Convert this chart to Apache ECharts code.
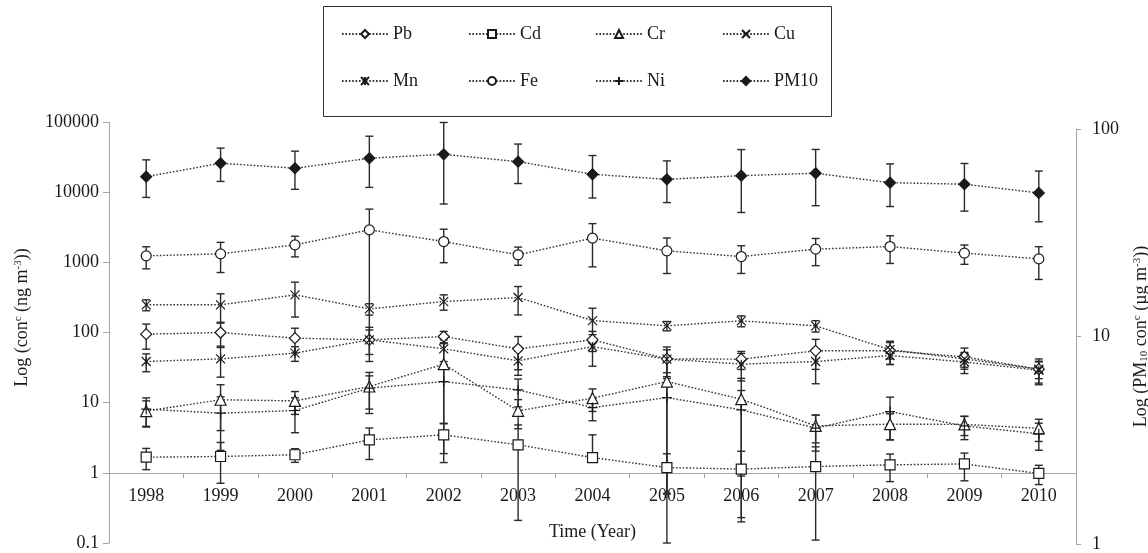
<!DOCTYPE html>
<html><head><meta charset="utf-8">
<script src="https://cdn.jsdelivr.net/npm/echarts@6/dist/echarts.min.js"></script>
<style>html,body{margin:0;padding:0;background:#fff}#c{width:1148px;height:553px}</style>
</head><body><div id="c"></div>
<script>
const years = ['1998','1999','2000','2001','2002','2003','2004','2005','2006','2007','2008','2009','2010'];
const leftTicks = [0.1, 1, 10, 100, 1000, 10000, 100000];
const rightTicks = [1, 10, 100];

// means (ng m-3) and standard deviations
const pbMean = [94.8, 99.9, 83.1, 78.6, 87.6, 58.5, 78.6, 42.1, 41.7, 54.8, 55, 45, 30];
const pbSd   = [37, 36, 32, 30, 16, 29, 25, 20, 12, 25, 20, 15, 12];
const cdMean = [1.67, 1.71, 1.81, 2.95, 3.48, 2.51, 1.65, 1.19, 1.13, 1.23, 1.30, 1.34, 0.98];
const cdSd   = [0.56, 1.0, 0.4, 1.4, 1.6, 2.3, 1.83, 0.68, 0.9, 1.12, 0.55, 0.57, 0.3];
const crMean = [7.6, 11.0, 10.6, 17, 35.4, 7.65, 11.6, 20.0, 11.2, 4.67, 4.94, 4.9, 4.3];
const crSd   = [3, 7, 3.8, 10, 34, 3.4, 4.1, 19.5, 11.0, 2, 2, 1.5, 1.5];
const cuMean = [248, 248, 344, 217, 276, 315, 148, 124.5, 146.6, 124.5, 57, 42, 30];
const cuSd   = [44, 108, 178, 40, 68, 137, 74, 19, 26, 23, 15, 10, 8];
const mnMean = [38.6, 42.1, 50.8, 78.6, 58.5, 39.5, 63.1, 41.7, 35.4, 38.6, 47, 38, 29];
const mnSd   = [11, 19, 12, 40, 20, 15, 30, 15, 15, 20, 12, 12, 10];
const feMean = [1237, 1321, 1775, 2904, 1978, 1279, 2212, 1458, 1209, 1542, 1679, 1352, 1120];
const feSd   = [430, 605, 580, 2830, 990, 370, 1350, 765, 515, 645, 715, 415, 550];
const niMean = [8.09, 7.09, 7.73, 16.1, 20.0, 15.2, 8.52, 11.8, 7.9, 4.34, 7.47, 4.67, 3.6];
const niSd   = [3.6, 5, 4, 8, 15, 6.5, 3, 11.7, 7, 2.3, 4.5, 1.7, 1.5];
// PM10 (ug m-3), right axis
const pmMean = [58.9, 68.4, 64.7, 72.3, 75.5, 69.6, 60.5, 57.2, 59.6, 61.2, 55.1, 54.2, 49.2];
const pmSd   = [12.1, 12.5, 13.5, 20, 32, 15, 14, 13, 20, 18.5, 12.8, 14, 13.5];

const FONT = 'Liberation Serif';
const AX = '#a6a6a6';
const INK = '#1a1a1a';

const SYM_X = 'path://M0,0L10,10M10,0L0,10';
const SYM_PLUS = 'path://M5,0L5,10M0,5L10,5';
const SYM_STAR = 'path://M0,0L10,10M10,0L0,10M5,0L5,10';

const defs = [
  {name:'Pb', mean:pbMean, sd:pbSd, symbol:'diamond', size:11, fill:'#fff', axis:0},
  {name:'Cd', mean:cdMean, sd:cdSd, symbol:'rect', size:10, fill:'#fff', axis:0},
  {name:'Cr', mean:crMean, sd:crSd, symbol:'triangle', size:11, fill:'#fff', axis:0},
  {name:'Cu', mean:cuMean, sd:cuSd, symbol:SYM_X, size:9, fill:'#fff', axis:0},
  {name:'Mn', mean:mnMean, sd:mnSd, symbol:SYM_STAR, size:9, fill:'#fff', axis:0},
  {name:'Fe', mean:feMean, sd:feSd, symbol:'circle', size:10, fill:'#fff', axis:0},
  {name:'Ni', mean:niMean, sd:niSd, symbol:SYM_PLUS, size:10, fill:'#fff', axis:0},
  {name:'PM10', mean:pmMean, sd:pmSd, symbol:'diamond', size:11, fill:INK, axis:1}
];

function errRender(params, api) {
  const xi = api.value(0), lo = api.value(1), hi = api.value(2), m = api.value(3);
  const pm = api.coord([xi, m]);
  const ph = api.coord([xi, hi]);
  const st = {stroke: '#2a2a2a', lineWidth: 1.4};
  const half = 4;
  const ch = [
    {type:'line', shape:{x1:ph[0], y1:ph[1], x2:pm[0], y2:pm[1]}, style:st},
    {type:'line', shape:{x1:ph[0]-half, y1:ph[1], x2:ph[0]+half, y2:ph[1]}, style:st}
  ];
  if (isFinite(lo) && lo > 0) {
    const pl = api.coord([xi, lo]);
    ch.push({type:'line', shape:{x1:pm[0], y1:pm[1], x2:pl[0], y2:pl[1]}, style:st});
    ch.push({type:'line', shape:{x1:pl[0]-half, y1:pl[1], x2:pl[0]+half, y2:pl[1]}, style:st});
  }
  return {type:'group', children: ch};
}

const series = [];
defs.forEach(d => {
  series.push({
    type:'custom', name: d.name + ' err', xAxisIndex:d.axis, yAxisIndex:d.axis,
    renderItem: errRender, silent:true, z:2, animation:false,
    data: years.map((y,i) => {
      const lo = d.mean[i] - d.sd[i];
      return [i, lo > 0 ? lo : '-', d.mean[i] + d.sd[i], d.mean[i]];
    })
  });
});
defs.forEach(d => {
  series.push({
    type:'line', name:d.name, xAxisIndex:d.axis, yAxisIndex:d.axis,
    data: d.mean, symbol:d.symbol, symbolSize:d.size, showAllSymbol:true,
    lineStyle:{color:'#333', width:1.4, type:[1.6,1.8]},
    itemStyle:{color:d.fill, borderColor:INK, borderWidth:1.2},
    emphasis:{disabled:true}, z:3, animation:false
  });
});

const fmt = v => { const e = Math.round(Math.log10(v)); return e < 0 ? '0.1' : String(Math.pow(10, e)); };
const txt = {fontFamily:FONT, fontSize:18, color:INK};
const rich = {
  sup:{fontFamily:FONT, fontSize:11, color:INK, verticalAlign:'top', lineHeight:12},
  sub:{fontFamily:FONT, fontSize:11, color:INK, verticalAlign:'bottom', lineHeight:12}
};

const legendCommon = {
  itemWidth:46, itemHeight:10, itemGap:15, selectedMode:false,
  textStyle:Object.assign({width:60, lineHeight:20}, txt), padding:5
};

const option = {
  backgroundColor:'#fff',
  animation:false,
  graphic:[{type:'rect', shape:{x:323.5, y:6.5, width:508, height:110}, style:{fill:'#fff', stroke:'#333', lineWidth:1}, z:0, silent:true}],
  legend:[
    Object.assign({data:['Pb','Cd','Cr','Cu'], left:336, top:19}, legendCommon),
    Object.assign({data:['Mn','Fe','Ni','PM10'], left:336, top:66}, legendCommon)
  ],
  grid:[
    {left:109, right:72, top:122, bottom:10, containLabel:false, outerBoundsMode:'none'},
    {left:109, right:72, top:129, bottom:9, containLabel:false, outerBoundsMode:'none'}
  ],
  xAxis:[
    {gridIndex:0, type:'category', data:years, boundaryGap:true, offset:-70,
     axisLine:{show:true, lineStyle:{color:AX, width:1}},
     axisTick:{show:true, length:5, lineStyle:{color:AX}},
     axisLabel:Object.assign({margin:14}, txt),
     name:'Time (Year)', nameLocation:'middle', nameGap:50, nameTextStyle:txt},
    {gridIndex:1, type:'category', data:years, boundaryGap:true, show:false}
  ],
  yAxis:[
    {gridIndex:0, type:'log', logBase:10, min:0.1, max:100000, position:'left',
     axisLine:{show:true, lineStyle:{color:AX}}, axisTick:{show:true, length:6, lineStyle:{color:AX}},
     minorTick:{show:false}, splitLine:{show:false},
     axisLabel:Object.assign({margin:10, formatter:fmt, customValues:leftTicks}, txt),
     name:'Log (con{sup|c} (ng m{sup|-3}))', nameLocation:'middle', nameGap:78, nameRotate:90,
     nameTextStyle:Object.assign({rich:rich, padding:[0,0,0,30]}, txt)},
    {gridIndex:1, type:'log', logBase:10, min:1, max:100, position:'right',
     axisLine:{show:true, lineStyle:{color:AX}}, axisTick:{show:true, length:5, lineStyle:{color:AX}},
     minorTick:{show:false}, splitLine:{show:false},
     axisLabel:Object.assign({margin:16, formatter:fmt}, txt),
     name:'Log (PM{sub|10} con{sup|c} (µg m{sup|-3}))', nameLocation:'middle', nameGap:56, nameRotate:90,
     nameTextStyle:Object.assign({rich:rich}, txt)}
  ],
  series:series
};

const chart = echarts.init(document.getElementById('c'), null, {renderer:'canvas'});
chart.setOption(option);
</script>
</body></html>
